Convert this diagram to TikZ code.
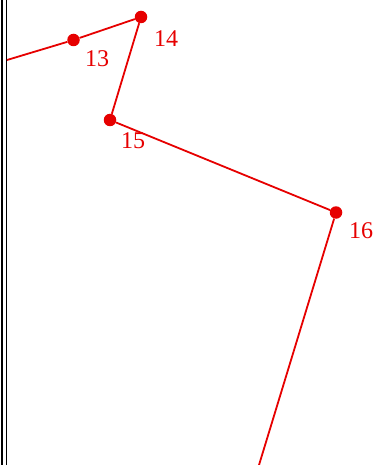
\documentclass[tikz,border=0pt]{standalone}
\usepackage{fontspec}
\setmainfont{Liberation Serif}
\usetikzlibrary{positioning}
\definecolor{ptred}{RGB}{230,0,0}

\begin{document}
\begin{tikzpicture}[x=1pt, y=-1pt]
  \tikzstyle{vertex} = [circle, fill=ptred, inner sep=0pt, minimum size=12.5pt]
  \tikzstyle{tag} = [font=\fontsize{24}{24}\selectfont\color{ptred}, inner sep=0pt]
  \tikzstyle{edge} = [draw=ptred, line width=1.8pt]

  \useasboundingbox (0,0) rectangle (377,465);

  % frame at the left
  \draw[line width=2.6pt] (2,0) -- (2,465);
  \draw[line width=1pt] (6.5,0) -- (6.5,465);

  \node [vertex] (p13) at (73.5,40) {};
  \node [vertex] (p14) at (141,17) {};
  \node [vertex] (p15) at (110,120) {};
  \node [vertex] (p16) at (336,212.5) {};
  \coordinate (cin) at (7,60);
  \coordinate (cout) at (259,465);

  \node [tag] (t13) at (97,59) {13};
  \node [tag] (t14) at (166,39) {14};
  \node [tag] (t15) at (133,141) {15};
  \node [tag] (t16) at (361,231) {16};

  \draw[edge] (cin) -- (p13) -- (p14) -- (p15) -- (p16) -- (cout);
\end{tikzpicture}
\end{document}
